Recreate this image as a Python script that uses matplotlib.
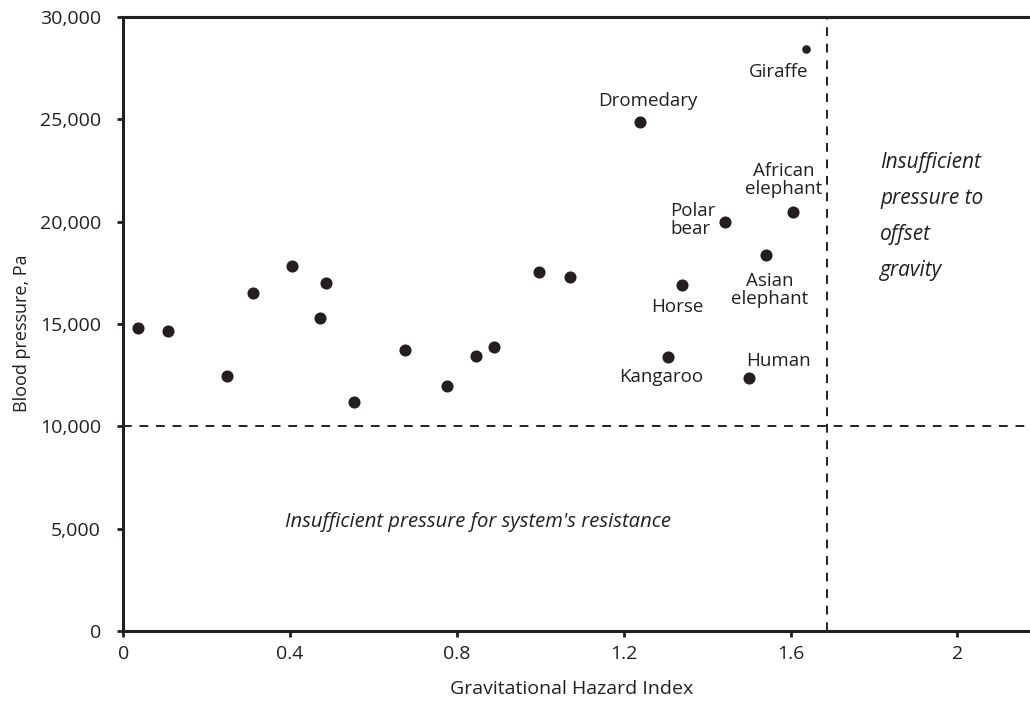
import matplotlib
matplotlib.use("Agg")
import matplotlib.pyplot as plt

plt.rcParams['font.family'] = ['Open Sans', 'DejaVu Sans']

INK = '#231f20'

# Gravitational hazard index vs blood pressure for the sampled animals
hazard = [0.036, 0.106, 0.248, 0.312, 0.405, 0.471, 0.485, 0.554, 0.676, 0.776,
          0.846, 0.889, 0.997, 1.071]
pressure = [14790, 14660, 12460, 16500, 17830, 15290, 16990, 11170, 13730, 11970,
            13440, 13880, 17540, 17300]

# Named animals, label offsets from the dot (pixels) and label alignment
named = ['Dromedary', 'Polar\nbear', 'African\nelephant', 'Asian\nelephant',
         'Horse', 'Kangaroo', 'Human']
named_hazard = [1.239, 1.443, 1.605, 1.541, 1.339, 1.307, 1.500]
named_pressure = [24870, 19970, 20490, 18360, 16900, 13370, 12350]
label_offsets = [(8, 21), (-55, 2), (-9, 32), (4, -35), (-4, -22), (-7, -20), (30, 17)]
label_ha = ['center', 'left', 'center', 'center', 'center', 'center', 'center']

giraffe = (1.637, 28420)

pressure_floor = 10000
hazard_limit = 1.687

fig = plt.figure(figsize=(10.3, 7.04), dpi=100)
ax = fig.add_axes([0.1197, 0.1037, 0.8803, 0.8722])

ax.scatter(hazard, pressure, s=76, color=INK, zorder=3, linewidths=0)
ax.scatter(named_hazard, named_pressure, s=76, color=INK, zorder=3, linewidths=0)
ax.scatter([giraffe[0]], [giraffe[1]], s=38, color=INK, zorder=3, linewidths=0)

for name, x, y, off, ha in zip(named, named_hazard, named_pressure, label_offsets, label_ha):
    ax.annotate(name, (x, y), xytext=off, textcoords='offset pixels',
                ha=ha, va='center', multialignment=ha, fontsize=13.5,
                color=INK, linespacing=1.0)
ax.annotate('Giraffe', giraffe, xytext=(-27, -23), textcoords='offset pixels',
            ha='center', va='center', fontsize=13.5, color=INK)

# threshold lines
ax.axhline(pressure_floor, color=INK, lw=1.4, ls=(0, (4.5, 4)), zorder=2)
ax.axvline(hazard_limit, color=INK, lw=1.4, ls=(0, (4.5, 4)), zorder=2)

ax.text(0.851, 5330, "Insufficient pressure for system's resistance",
        ha='center', va='center', fontsize=14.6, style='italic', color=INK)
ax.text(1.815, 20250, 'Insufficient\npressure to\noffset\ngravity',
        ha='left', va='center', fontsize=15, style='italic', color=INK,
        linespacing=1.95)

ax.set_xlim(0, 2.174)
ax.set_ylim(0, 30000)
ax.set_xticks([0, 0.4, 0.8, 1.2, 1.6, 2])
ax.set_xticklabels(['0', '0.4', '0.8', '1.2', '1.6', '2'])
ax.set_yticks(range(0, 30001, 5000))
ax.set_yticklabels([f'{v:,}' for v in range(0, 30001, 5000)])

for side in ['left', 'bottom', 'top']:
    ax.spines[side].set_linewidth(2.2)
    ax.spines[side].set_color(INK)
ax.spines['right'].set_visible(False)
ax.tick_params(axis='both', direction='out', length=4, width=2, color=INK,
               labelsize=14, labelcolor=INK)
ax.tick_params(axis='x', pad=6)
ax.tick_params(axis='y', pad=12)

ax.set_xlabel('Gravitational Hazard Index', fontsize=14, color=INK)
ax.set_ylabel('Blood pressure, Pa', fontsize=13, color=INK)
ax.xaxis.set_label_coords(0.495, -0.080)
ax.yaxis.set_label_coords(-0.102, 0.485)

fig.savefig('out.png', dpi=100)
